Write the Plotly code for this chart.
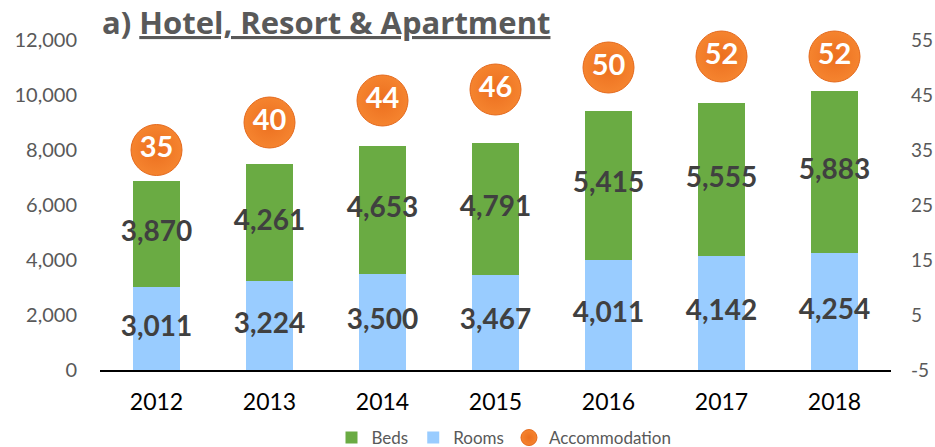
import plotly.graph_objects as go

years = ["2012", "2013", "2014", "2015", "2016", "2017", "2018"]
rooms = [3011, 3224, 3500, 3467, 4011, 4142, 4254]
beds = [3870, 4261, 4653, 4791, 5415, 5555, 5883]
accommodation = [35, 40, 44, 46, 50, 52, 52]
left_ticks = [0, 2000, 4000, 6000, 8000, 10000, 12000]
right_ticks = [-5, 5, 15, 25, 35, 45, 55]
right_tick_labels = ["-5", "5", "15", "25", "35", "45", "55"]

FONT = "Lato"
W, H = 935, 447
L, R, T, B = 100, 44, 40, 77
PW, PH = W - L - R, H - T - B

fig = go.Figure()
fig.add_trace(go.Bar(
    x=years, y=rooms, name="Rooms", legendrank=2,
    marker=dict(color="#99CCFF", line=dict(width=0)),
))
fig.add_trace(go.Bar(
    x=years, y=beds, name="Beds", legendrank=1,
    marker=dict(color="#6AAB43", line=dict(width=0)),
))
label_font = dict(family=FONT, size=28, color="#404040", weight="bold")
fig.add_trace(go.Scatter(
    x=years, y=[r / 2 for r in rooms], mode="text",
    text=[f"{v:,}" for v in rooms], textposition="middle center",
    textfont=label_font, showlegend=False, hoverinfo="skip",
))
fig.add_trace(go.Scatter(
    x=years, y=[r + b / 2 for r, b in zip(rooms, beds)], mode="text",
    text=[f"{v:,}" for v in beds], textposition="middle center",
    textfont=label_font, showlegend=False, hoverinfo="skip",
))
fig.add_trace(go.Scatter(
    x=years, y=accommodation, name="Accommodation", legendrank=3, yaxis="y2",
    mode="markers+text",
    marker=dict(size=51, color="#F5842F", line=dict(color="#E4691C", width=1),
                gradient=dict(type="radial", color="#EC6F1F")),
    text=[str(v) for v in accommodation], textposition="middle center",
    textfont=dict(family=FONT, size=29, color="white", weight="bold"),
    cliponaxis=False,
))

fig.update_layout(
    width=W, height=H,
    margin=dict(l=L, r=R, t=T, b=B, autoexpand=False),
    paper_bgcolor="white", plot_bgcolor="white",
    barmode="stack", bargap=0.59,
    font=dict(family=FONT, color="#595959"),
    xaxis=dict(range=[-0.5, len(years) - 0.5], showgrid=False, showline=True,
               linecolor="black", linewidth=2,
               ticks="", tickfont=dict(size=23, color="black", family=FONT),
               ticklabelstandoff=10, automargin=False),
    yaxis=dict(range=[0, 12000], tickvals=left_ticks, tickformat=",",
               showgrid=False, zeroline=False, showline=False,
               tickfont=dict(size=20, color="#595959"), ticklabelstandoff=22,
               automargin=False),
    yaxis2=dict(range=[-5, 55], tickvals=right_ticks, ticktext=right_tick_labels,
                overlaying="y", side="right",
                showgrid=False, zeroline=False, showline=False,
                tickfont=dict(size=19, color="#595959"), ticklabelstandoff=19,
                automargin=False),
    legend=dict(orientation="h", traceorder="normal",
                x=(504 - L) / PW, xanchor="center",
                y=(T + PH - 438) / PH, yanchor="middle",
                font=dict(size=17, color="#595959"), itemwidth=30),
    showlegend=True,
    annotations=[dict(
        text="a) <u>Hotel, Resort &amp; Apartment</u>",
        x=(100 - L) / PW, xref="paper", y=(T + PH - 22) / PH, yref="paper",
        showarrow=False, xanchor="left", yanchor="middle",
        font=dict(family="Open Sans", size=31, color="#595959", weight="bold"),
    )],
)
fig.write_html("out.html", config={"displayModeBar": False},
               post_script="document.body.style.margin='0';document.body.style.overflow='hidden';")
